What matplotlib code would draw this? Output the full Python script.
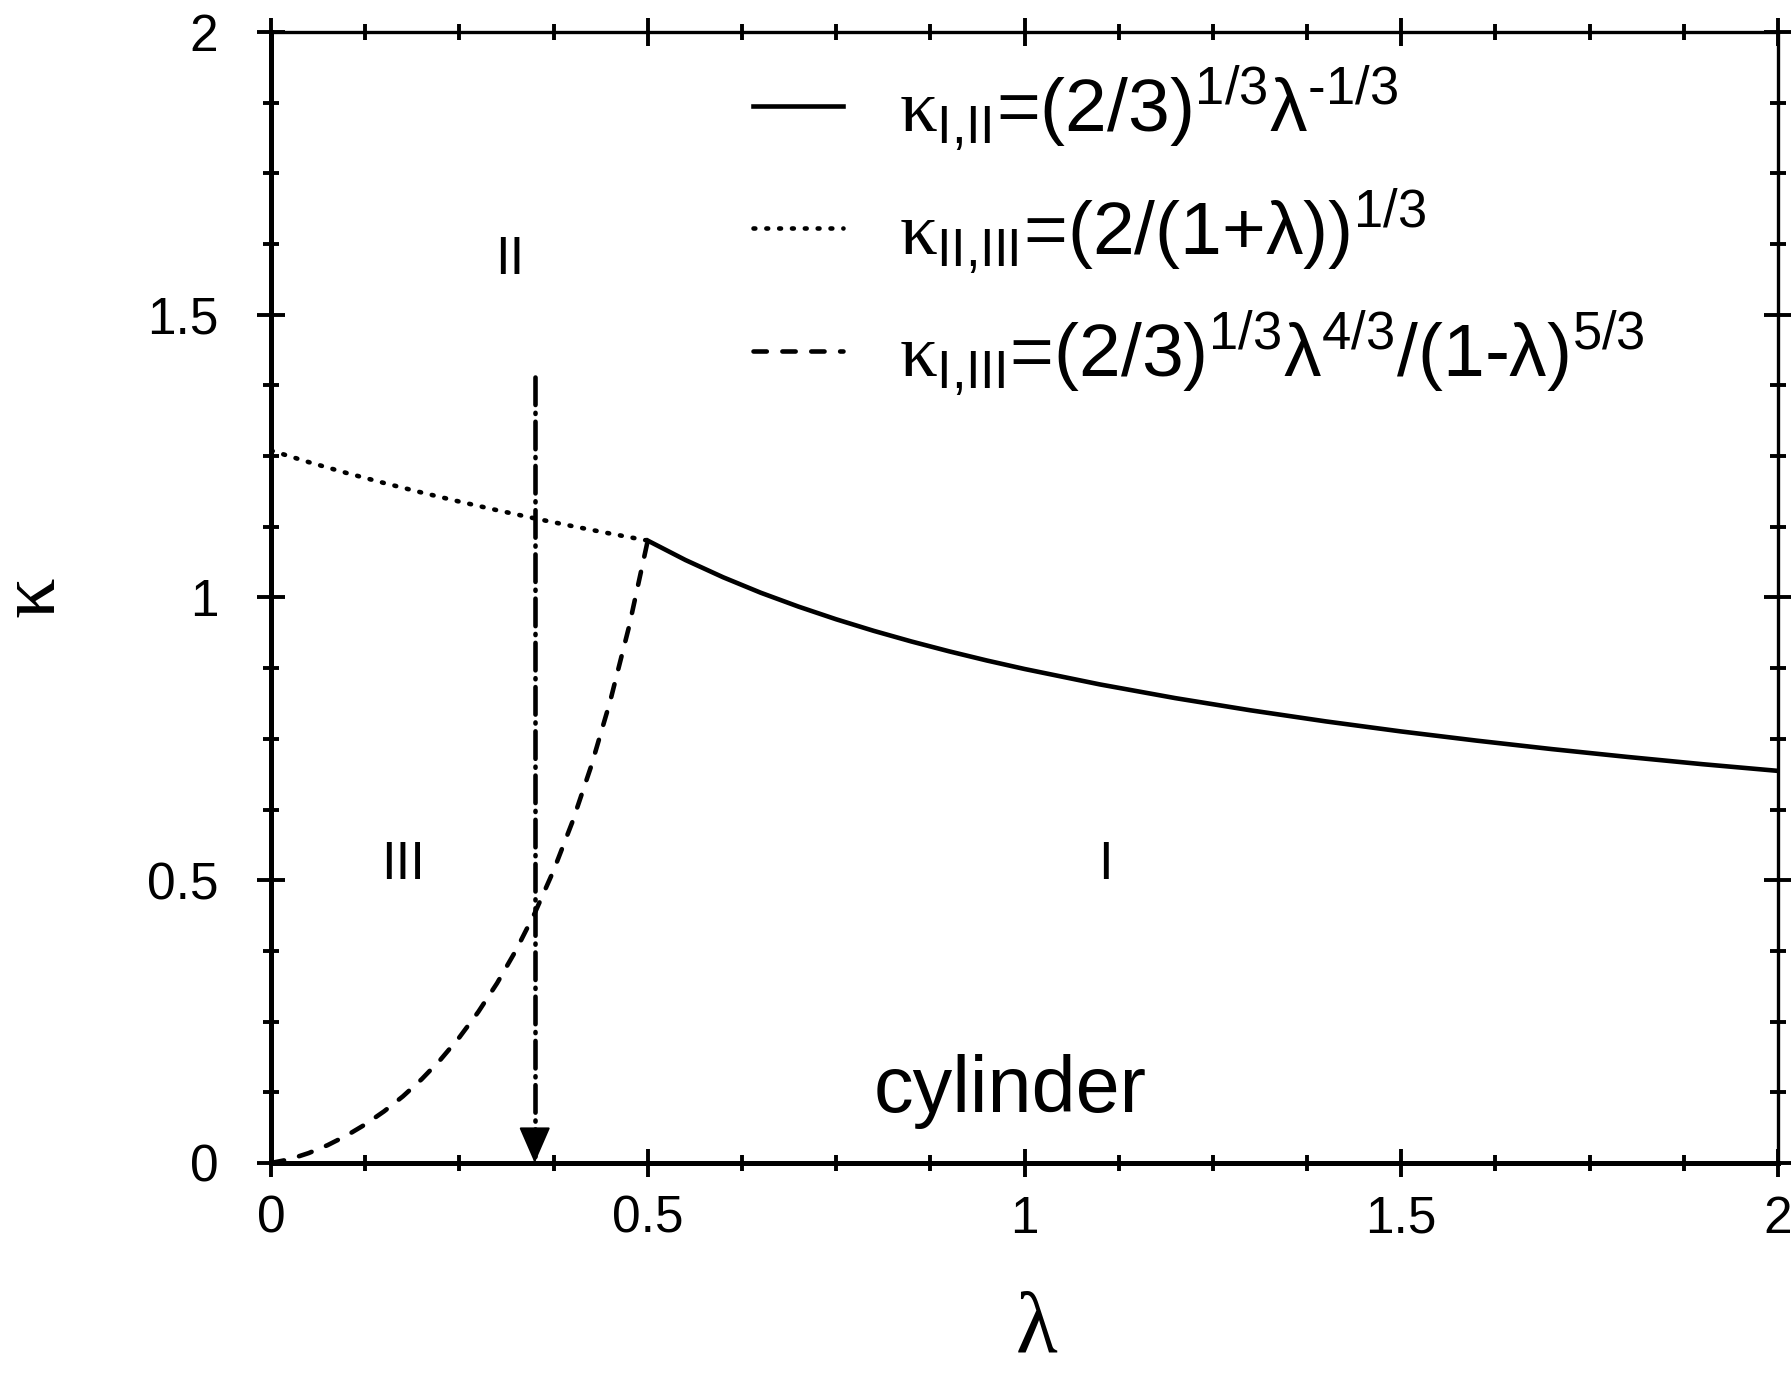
import matplotlib
matplotlib.use("Agg")
import matplotlib.pyplot as plt
from matplotlib.ticker import MultipleLocator

plt.rcParams['font.family'] = ['Liberation Sans', 'DejaVu Sans']
plt.rcParams['mathtext.fontset'] = 'custom'
plt.rcParams['mathtext.rm'] = 'Liberation Sans'
plt.rcParams['mathtext.it'] = 'Liberation Serif'
plt.rcParams['mathtext.default'] = 'regular'

# ---- data ----
lam_I_II = [0.5, 0.55, 0.6, 0.65, 0.7, 0.75, 0.8, 0.85, 0.9, 0.95, 1.0,
            1.1, 1.2, 1.3, 1.4, 1.5, 1.6, 1.7, 1.8, 1.9, 2.0]
kap_I_II = [1.1006, 1.0663, 1.0358, 1.0084, 0.9839, 0.9615, 0.9410, 0.9222,
            0.9048, 0.8886, 0.8736, 0.8463, 0.8221, 0.8005, 0.7809, 0.7631,
            0.7469, 0.7319, 0.7181, 0.7052, 0.6934]

lam_II_III = [0.0, 0.05, 0.1, 0.15, 0.2, 0.25, 0.3, 0.35, 0.4, 0.45, 0.5]
kap_II_III = [1.2599, 1.2394, 1.2203, 1.2025, 1.1856, 1.1696, 1.1544,
              1.1399, 1.1262, 1.1131, 1.1006]

lam_I_III = [0.0, 0.025, 0.05, 0.075, 0.1, 0.125, 0.15, 0.175, 0.2, 0.225,
             0.25, 0.275, 0.3, 0.325, 0.35, 0.375, 0.4, 0.425, 0.45, 0.475, 0.5]
kap_I_III = [0.0, 0.00666, 0.01753, 0.03147, 0.04833, 0.06821, 0.09130,
             0.11781, 0.14821, 0.18284, 0.22222, 0.26701, 0.31790, 0.37582,
             0.44177, 0.51706, 0.60325, 0.70209, 0.81590, 0.94757, 1.1006]

labels = [r'$\mathit{\kappa}_{I{,}II}$=(2/3)$^{1/3}$λ$^{\text{-}1/3}$',
          r'$\mathit{\kappa}_{II{,}III}$=(2/(1+λ))$^{1/3}$',
          r'$\mathit{\kappa}_{I{,}III}$=(2/3)$^{1/3}$λ$^{4/3}$/(1-λ)$^{5/3}$']

region_names = ['II', 'III', 'I']
region_lam = [0.317, 0.175, 1.108]
region_kap = [1.597, 0.527, 0.527]

arrow_lam = 0.35
arrow_from = 1.39
arrow_to = 0.0

x_ticks = [0, 0.5, 1, 1.5, 2]
x_ticklabels = ['0', '0.5', '1', '1.5', '2']
y_ticks = [0, 0.5, 1, 1.5, 2]
y_ticklabels = ['0', '0.5', '1', '1.5', '2']

# ---- figure ----
fig = plt.figure(figsize=(17.91, 13.8), dpi=100)
ax = fig.add_axes([271/1791, 1 - 1163/1380, 1507/1791, 1131/1380])

lw = 3.3
ax.plot(lam_I_II, kap_I_II, color='black', lw=lw, ls='-', label=labels[0])
ax.plot(lam_II_III, kap_II_III, color='black', lw=lw, dashes=(0.4, 2.4),
        dash_capstyle='round', label=labels[1])
ax.plot(lam_I_III, kap_I_III, color='black', lw=lw, dashes=(2.9, 3.4),
        dash_capstyle='round', label=labels[2])

# vertical dash-dot arrow
ax.plot([arrow_lam, arrow_lam], [arrow_from, arrow_to], color='black', lw=lw,
        dashes=(6.0, 1.7, 0.25, 1.7), dash_capstyle='round')
head_len = 0.05
ax.annotate('', xy=(arrow_lam, arrow_to), xytext=(arrow_lam, arrow_to + head_len),
            arrowprops=dict(arrowstyle='-|>,head_length=1.15,head_width=0.5',
                            mutation_scale=20, lw=1.5, color='black',
                            fc='black', shrinkA=0, shrinkB=0))

for name, x, y in zip(region_names, region_lam, region_kap):
    ax.text(x, y, name, fontsize=38, ha='center', va='center')
ax.text(0.981, 0.127, 'cylinder', fontsize=57, ha='center', va='center')

ax.set_xlim(0, 2)
ax.set_ylim(0, 2)
ax.set_xticks(x_ticks)
ax.set_xticklabels(x_ticklabels)
ax.set_yticks(y_ticks)
ax.set_yticklabels(y_ticklabels)
ax.xaxis.set_minor_locator(MultipleLocator(0.125))
ax.yaxis.set_minor_locator(MultipleLocator(0.125))
ax.tick_params(which='both', direction='inout', top=True, right=True,
               width=2.8, color='black')
ax.tick_params(which='major', length=20, labelsize=37)
ax.tick_params(which='minor', length=12)
ax.tick_params(axis='x', which='major', pad=13)
ax.tick_params(axis='y', which='major', pad=28)

for side in ['left', 'bottom']:
    ax.spines[side].set_linewidth(3.6)
for side in ['right', 'top']:
    ax.spines[side].set_linewidth(2.4)

ax.set_xlabel('λ', fontsize=62, family='Liberation Serif')
ax.xaxis.label.set_va('center')
ax.xaxis.set_label_coords(0.508, -0.1485)
ax.set_ylabel('κ', fontsize=58, family='Liberation Serif', rotation=90)
ax.yaxis.label.set_va('center')
ax.yaxis.set_label_coords(-0.157, 0.501)

leg = ax.legend(loc='upper left', bbox_to_anchor=(0.31, 0.985), frameon=False,
                fontsize=54, handlelength=1.2, handletextpad=0.75,
                labelspacing=0.43, borderpad=0.2, borderaxespad=0)

fig.savefig('out.png', dpi=100)
